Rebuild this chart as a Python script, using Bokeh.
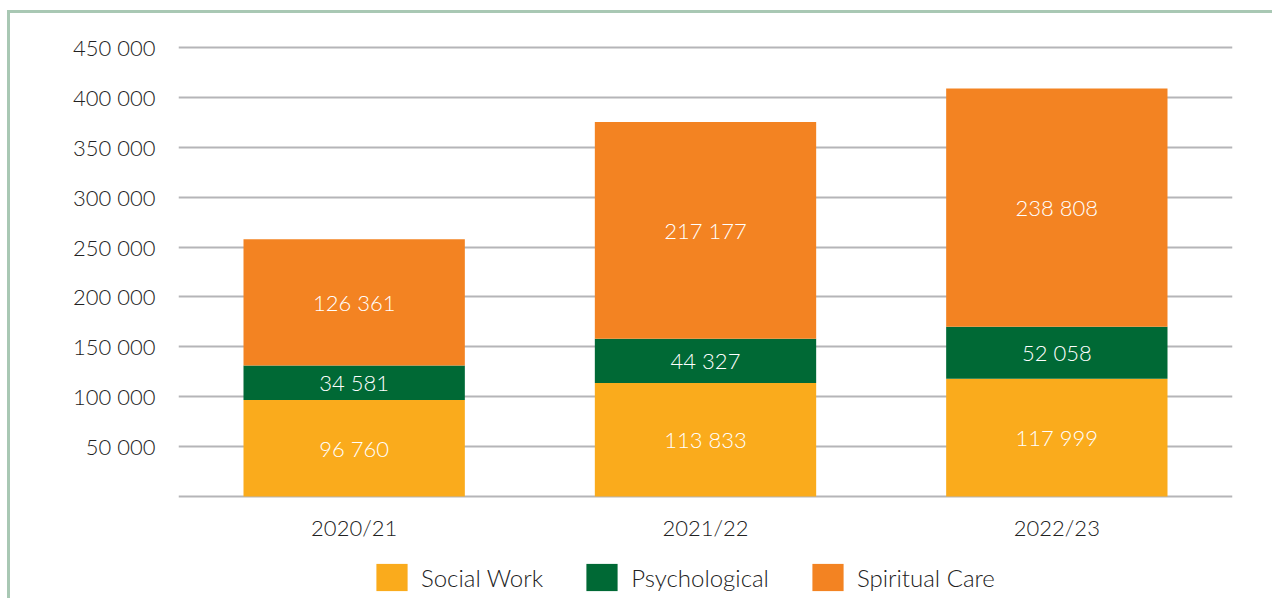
from bokeh.plotting import figure
from bokeh.models import (ColumnDataSource, FactorRange, FixedTicker, Legend,
                          LegendItem)
from bokeh.core.properties import value
from bokeh.embed import file_html
from bokeh.resources import INLINE

# ---- data ----
years = ["2020/21", "2021/22", "2022/23"]
social_work = [96760, 113833, 117999]
psychological = [34581, 44327, 52058]
spiritual_care = [126361, 217177, 238808]
series_names = ["Social Work", "Psychological", "Spiritual Care"]
series_keys = ["social", "psych", "spirit"]
colors = ["#FAAB1C", "#006935", "#F38322"]
y_ticks = [50000, 100000, 150000, 200000, 250000, 300000, 350000, 400000, 450000]
y_tick_labels = ["50 000", "100 000", "150 000", "200 000", "250 000",
                 "300 000", "350 000", "400 000", "450 000"]

FONT = "Lato Light, Open Sans"
BORDER = "#A9C8B4"
TEXT = "#222222"
FS = "22px"

W, H = 1272, 598
LEFT, TOP, RIGHT = 178, 43, 1232
TOP_TICK_PX = 47
ZERO_PX = 496
Y_TOP_TICK = 450000
units_per_px = Y_TOP_TICK / (ZERO_PX - TOP_TICK_PX)
y_max = Y_TOP_TICK + (TOP_TICK_PX - TOP) * units_per_px
y_min = -(H - ZERO_PX) * units_per_px

src = ColumnDataSource(dict(x=years, social=social_work, psych=psychological,
                            spirit=spiritual_care))

p = figure(x_range=FactorRange(*years, range_padding=0), y_range=(y_min, y_max),
           width=W, height=H, output_backend="svg", toolbar_location=None,
           min_border_left=LEFT, min_border_right=W - RIGHT, min_border_top=TOP,
           min_border_bottom=0)
p.outline_line_color = None
p.background_fill_color = "white"
p.border_fill_alpha = 0
p.styles = {
    "background": (f"linear-gradient({BORDER},{BORDER}) 7px 10px / 3px 100% no-repeat, "
                   f"linear-gradient({BORDER},{BORDER}) 7px 10px / 100% 3px no-repeat, white"),
}

renderers = p.vbar_stack(series_keys, x="x", width=0.63, color=colors,
                         line_color=None, source=src)

# segment labels
lab_x, lab_y, lab_t = [], [], []
for i, yr in enumerate(years):
    base = 0
    for vals in (social_work, psychological, spiritual_care):
        v = vals[i]
        lab_x.append(yr)
        lab_y.append(base + v / 2)
        lab_t.append(f"{v:,}".replace(",", " "))
        base += v
p.text(x=lab_x, y=lab_y, text=lab_t, text_align="center",
       text_baseline="middle", text_color="#FFFFFF",
       text_font=value(FONT), text_font_size=FS)

# category labels (below the zero line)
p.text(x=years, y=[0] * len(years), text=years, text_align="center",
       text_baseline="middle", y_offset=31, text_color=TEXT,
       text_font=value(FONT), text_font_size=FS)

# axes
p.xaxis.visible = False
p.yaxis.ticker = FixedTicker(ticks=y_ticks)
p.yaxis.major_label_overrides = {t: l for t, l in zip(y_ticks, y_tick_labels)}
p.yaxis.axis_line_color = None
p.yaxis.major_tick_line_color = None
p.yaxis.major_tick_out = 0
p.yaxis.major_tick_in = 0
p.yaxis.minor_tick_line_color = None
p.yaxis.major_label_standoff = 23
p.yaxis.major_label_text_font = FONT
p.yaxis.major_label_text_font_size = FS
p.yaxis.major_label_text_color = TEXT

p.xgrid.grid_line_color = None
p.ygrid.ticker = FixedTicker(ticks=[0] + y_ticks)
p.ygrid.grid_line_color = "#b5b5b8"
p.ygrid.grid_line_width = 2
p.ygrid.level = "underlay"

legend = Legend(items=[LegendItem(label=n, renderers=[r])
                       for n, r in zip(series_names, renderers)],
                orientation="horizontal", location=(194, 4),
                glyph_width=39, glyph_height=34, label_standoff=10,
                spacing=39, padding=0, margin=0,
                border_line_color=None, background_fill_alpha=0,
                label_text_font=FONT, label_text_font_size="24px",
                label_text_color=TEXT)
p.add_layout(legend, "center")

open("out.html", "w").write(file_html(p, INLINE))
